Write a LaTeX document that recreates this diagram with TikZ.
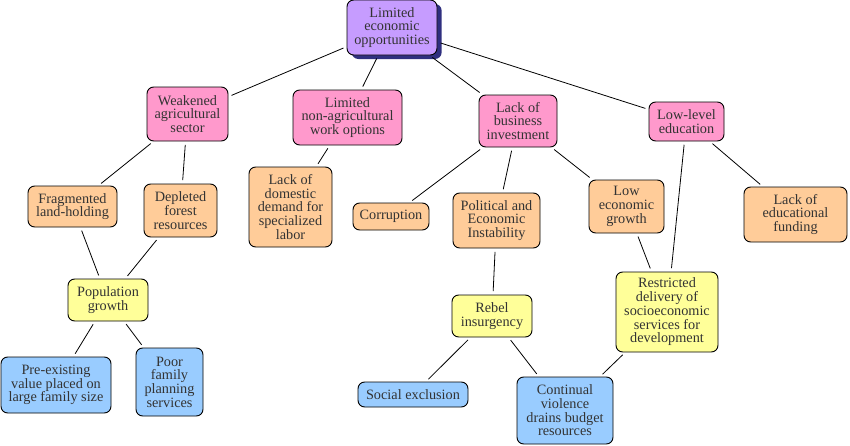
\documentclass[tikz,border=0pt]{standalone}
\usepackage{fontspec}
\setmainfont{Liberation Serif}
\usepackage{tikz}
\usetikzlibrary{shadows}

\definecolor{rootfill}{HTML}{C69CFF}
\definecolor{rootshadow}{HTML}{2F2F7F}
\definecolor{causefill}{HTML}{FF99CC}
\definecolor{factorfill}{HTML}{FFCC99}
\definecolor{linkfill}{HTML}{FFFF99}
\definecolor{rootcause}{HTML}{99CCFF}

\begin{document}
\begin{tikzpicture}
  [x=0.75pt,y=-0.75pt,
   every node/.style={rectangle,draw,rounded corners=5pt,align=center,
     inner sep=1pt,line width=0.7pt,text=black!80,
     font=\fontsize{10.7}{10.3}\selectfont},
   sz/.style 2 args={minimum width=#1*0.75pt,minimum height=#2*0.75pt},
   link/.style={line width=0.6pt,shorten >=2.5pt,shorten <=2.5pt}]

  \useasboundingbox (0,0) rectangle (850,446);

  % top of the tree
  \node[fill=rootfill,sz={90}{55},
    drop shadow={shadow xshift=3.5pt,shadow yshift=-3pt,fill=rootshadow,opacity=1}]
    (limited) at (392,27.5) {Limited \\ economic \\ opportunities};

  % second level
  \node[fill=causefill,sz={81}{54}] (agri) at (187.5,114) {Weakened \\ agricultural \\ sector};
  \node[fill=causefill,sz={109}{55}] (nonagri) at (347.5,117.5) {Limited \\ non-agricultural \\ work options};
  \node[fill=causefill,sz={78}{52}] (business) at (518,121) {Lack of \\ business \\ investment};
  \node[fill=causefill,sz={75}{39}] (education) at (686.5,121.5) {Low-level \\ education};

  % third level
  \node[fill=factorfill,sz={89}{41}] (landholding) at (72.5,206.5) {Fragmented \\ land-holding};
  \node[fill=factorfill,sz={73}{53}] (forest) at (180.5,210.5) {Depleted \\ forest \\ resources};
  \node[fill=factorfill,sz={83}{80}] (demand) at (290.5,207) {Lack of \\ domestic \\ demand for \\ specialized \\ labor};
  \node[fill=factorfill,sz={76}{27}] (corruption) at (391,216.5) {Corruption};
  \node[fill=factorfill,sz={87}{55}] (instability) at (496.5,220.5) {Political and \\ Economic \\ Instability};
  \node[fill=factorfill,sz={75}{53}] (growth) at (626.5,206.5) {Low \\ economic \\ growth};
  \node[fill=factorfill,sz={103}{55}] (funding) at (795.5,214.5) {Lack of \\ educational \\ funding};

  % fourth level
  \node[fill=linkfill,sz={80}{42}] (population) at (108,300) {Population \\ growth};
  \node[fill=linkfill,sz={80}{42}] (rebel) at (492,316) {Rebel \\ insurgency};
  \node[fill=linkfill,sz={102}{80}] (delivery) at (667,312) {Restricted \\ delivery of \\ socioeconomic \\ services for \\ development};

  % bottom level
  \node[fill=rootcause,sz={110}{56}] (familysize) at (56,385) {Pre-existing \\ value placed on \\ large family size};
  \node[fill=rootcause,sz={67}{68}] (planning) at (169.5,382) {Poor \\ family \\ planning \\ services};
  \node[fill=rootcause,sz={110}{25}] (exclusion) at (413,394.5) {Social exclusion};
  \node[fill=rootcause,sz={96}{67}] (violence) at (565,410.5) {Continual \\ violence \\ drains budget \\ resources};

  % connect the boxes
  \foreach \from/\to in {limited/agri,limited/nonagri,limited/business,limited/education,
      agri/landholding,agri/forest,nonagri/demand,
      business/corruption,business/instability,business/growth,
      education/delivery,education/funding,
      landholding/population,forest/population,
      population/familysize,population/planning,
      instability/rebel,growth/delivery,
      rebel/exclusion,rebel/violence,delivery/violence}
    \draw[link] (\from) -- (\to);

\end{tikzpicture}
\end{document}
